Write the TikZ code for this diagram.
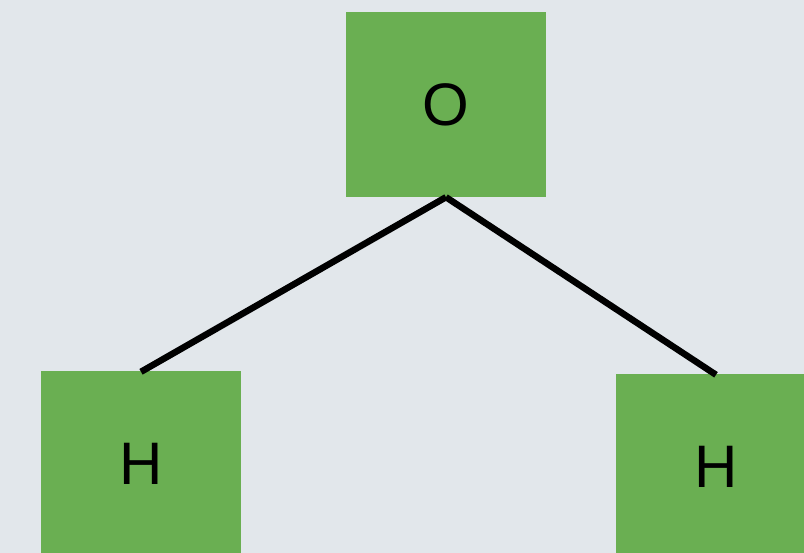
\documentclass[tikz,border=0pt]{standalone}
\usepackage{fontspec}
\setmainfont{Liberation Sans}
\definecolor{bgcol}{HTML}{E2E7EB}
\definecolor{atomgreen}{HTML}{6AAF52}
\begin{document}
\begin{tikzpicture}[x=1pt,y=-1pt,
  atom/.style={fill=atomgreen, draw=none, inner sep=0pt,
    minimum width=200pt, minimum height=185pt,
    font=\fontsize{60}{60}\selectfont},
  bond/.style={line width=6.5pt, line cap=butt, black}]
  % canvas
  \fill[bgcol] (0,0) rectangle (804,553);
  \useasboundingbox (0,0) rectangle (804,553);
  % atoms
  \node[atom] (O)  at (446,104.5) {O};
  \node[atom] (H1) at (141,463.5) {H};
  \node[atom] (H2) at (716,466.5) {H};
  % bonds, from the bottom of O to the top of each H
  \draw[bond] (O.south) -- ([yshift=-1pt]H1.north);
  \draw[bond] (O.south) -- ([yshift=-1pt]H2.north);
\end{tikzpicture}
\end{document}
